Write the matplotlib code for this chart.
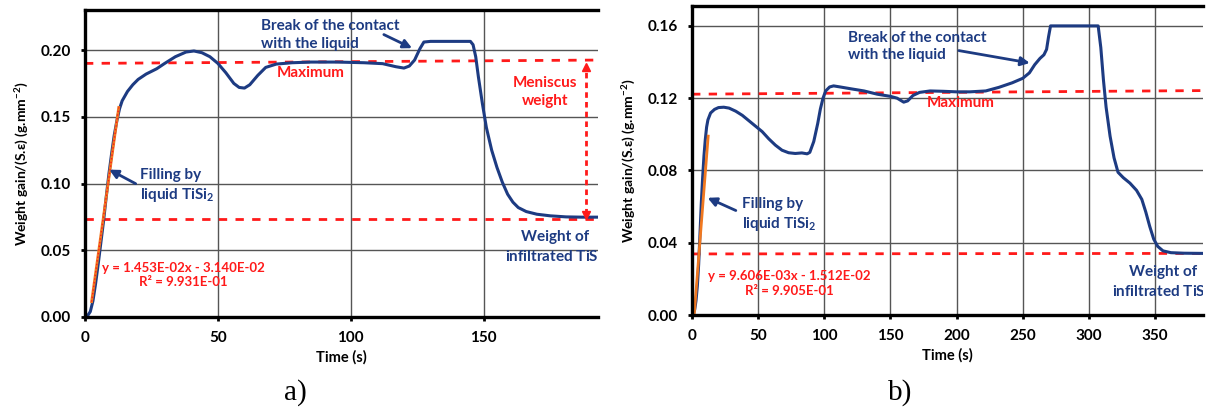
import matplotlib
matplotlib.use("Agg")
from matplotlib import pyplot as plt

plt.rcParams['font.family'] = ['Lato', 'DejaVu Sans']
plt.rcParams['font.weight'] = 'bold'
plt.rcParams['mathtext.default'] = 'regular'

NAVY = '#1d3b82'
RED = '#ff1a1a'
ORANGE = '#f07820'

# panel a) data
time_a = [0, 1, 2, 3, 4, 5, 6, 7, 8, 9, 10, 11, 12, 13, 14, 16, 18, 20, 23, 27, 30, 34, 38, 41,
          44, 47, 50, 53, 56, 58, 60, 62, 65, 68, 72, 78, 85, 95, 105, 112, 117, 120, 122, 124,
          126, 127.5, 130, 145, 146, 147, 148, 149.5, 151, 153, 155, 157, 159, 161, 163, 166,
          170, 175, 181, 187, 193]
gain_a = [0, 0.001, 0.004, 0.012, 0.025, 0.040, 0.056, 0.072, 0.090, 0.107, 0.122, 0.136, 0.147,
          0.156, 0.162, 0.169, 0.174, 0.178, 0.182, 0.186, 0.190, 0.195, 0.1985, 0.1993, 0.198,
          0.195, 0.190, 0.183, 0.175, 0.172, 0.1715, 0.174, 0.181, 0.187, 0.1895, 0.1905, 0.1910,
          0.1910, 0.1905, 0.1898, 0.1875, 0.1865, 0.1880, 0.1925, 0.2010, 0.2060, 0.2065, 0.2065,
          0.2040, 0.1950, 0.1800, 0.1600, 0.1420, 0.1250, 0.1120, 0.1010, 0.0920, 0.0860, 0.0820,
          0.0790, 0.0770, 0.0758, 0.0750, 0.0748, 0.0748]
fit_a_x = [2.5, 12.7]
fit_a_y = [0.0115, 0.157]
max_a_y = [0.190, 0.1925]
infil_a_y = [0.0734, 0.0734]

# panel b) data
time_b = [0, 1, 2, 3, 4, 5, 6, 7, 8, 9, 10, 11, 12, 14, 17, 20, 24, 28, 33, 38, 43, 48, 53, 58,
          63, 68, 73, 78, 83, 87, 89, 92, 95, 97, 99, 101, 104, 107, 112, 120, 130, 140, 150, 155,
          160, 163, 167, 172, 180, 190, 200, 210, 222, 232, 242, 250, 255, 259, 263, 266, 268,
          269.5, 271, 307, 309, 311, 313, 316, 319, 322, 326, 331, 336, 340, 343, 346, 349, 352,
          356, 362, 372, 386]
gain_b = [0, 0.0005, 0.003, 0.008, 0.016, 0.028, 0.045, 0.062, 0.076, 0.088, 0.097, 0.104, 0.108,
          0.1118, 0.1138, 0.1148, 0.1150, 0.1145, 0.1128, 0.1105, 0.1075, 0.1045, 0.1015, 0.0975,
          0.0940, 0.0912, 0.0898, 0.0894, 0.0897, 0.0892, 0.0900, 0.0960, 0.1060, 0.1140, 0.1200,
          0.1240, 0.1262, 0.1268, 0.1262, 0.1252, 0.1240, 0.1222, 0.1210, 0.1200, 0.1178, 0.1185,
          0.1215, 0.1232, 0.1240, 0.1238, 0.1235, 0.1235, 0.1240, 0.1260, 0.1285, 0.1310, 0.1340,
          0.1385, 0.1420, 0.1440, 0.1470, 0.1540, 0.1600, 0.1600, 0.1480, 0.1300, 0.1150, 0.0990,
          0.0870, 0.0790, 0.0760, 0.0730, 0.0690, 0.0640, 0.0570, 0.0490, 0.0420, 0.0380, 0.0355,
          0.0345, 0.0342, 0.0341]
fit_b_x = [1.6, 12.2]
fit_b_y = [0.0, 0.099]
max_b_y = [0.1222, 0.1242]
infil_b_y = [0.0338, 0.0341]

xticks_a = [0, 50, 100, 150]
yticks_a = [0.00, 0.05, 0.10, 0.15, 0.20]
xticks_b = [0, 50, 100, 150, 200, 250, 300, 350]
yticks_b = [0.00, 0.04, 0.08, 0.12, 0.16]

eq_a = 'y = 1.453E-02x - 3.140E-02\nR² = 9.931E-01'
eq_b = 'y = 9.606E-03x - 1.512E-02\nR² = 9.905E-01'
ylabel = 'Weight gain/(S.ε) (g.mm$^{-2}$)'
TXT = 11


def style_axes(ax, xlim, ylim, xticks, yticks, yfmt):
    ax.set_xlim(*xlim)
    ax.set_ylim(*ylim)
    ax.set_xticks(xticks)
    ax.set_yticks(yticks)
    ax.set_yticklabels([yfmt.format(v) for v in yticks])
    ax.grid(True, color='#555555', lw=1.0)
    ax.set_axisbelow(True)
    for side in ('left', 'bottom', 'top'):
        ax.spines[side].set_linewidth(2.4)
    ax.spines['right'].set_visible(False)
    ax.tick_params(direction='out', length=3, width=2, labelsize=11, pad=7)
    ax.set_xlabel('Time (s)', fontsize=10.5, fontweight='bold', labelpad=4)
    ax.set_ylabel(ylabel, fontsize=10, fontweight='bold', labelpad=7)


def weight_text(ax, x_center, x_left, y_top, y_bot):
    ax.text(x_center, y_top, 'Weight of', color=NAVY, fontsize=TXT, ha='center', va='center')
    t = ax.text(x_left, y_bot, 'infiltrated TiSi$_2$', color=NAVY, fontsize=TXT,
                ha='left', va='center')
    t.set_clip_on(True)


fig = plt.figure(figsize=(12.12, 4.12), dpi=100)
ax_a = fig.add_axes([0.0701, 0.2306, 0.4233, 0.7451])
ax_b = fig.add_axes([0.5710, 0.2354, 0.4213, 0.7500])

# ---- panel a
style_axes(ax_a, (0, 193), (0, 0.23), xticks_a, yticks_a, '{:.2f}')
xa = ax_a.get_xlim()
ax_a.plot(xa, max_a_y, color=RED, lw=2, dashes=(3, 3))
ax_a.plot(xa, infil_a_y, color=RED, lw=2, dashes=(3, 3))
ax_a.plot(time_a, gain_a, color=NAVY, lw=2.2)
ax_a.plot(fit_a_x, fit_a_y, color=ORANGE, lw=2)
ax_a.plot(fit_a_x, fit_a_y, color=RED, lw=1, ls=':')

ax_a.plot([188.3, 188.3], [0.0775, 0.187], color=RED, lw=2, dashes=(2, 1.5))
ax_a.plot(188.3, 0.1875, marker='^', color=RED, ms=6)
ax_a.plot(188.3, 0.0765, marker='v', color=RED, ms=6)

ax_a.text(66.4, 0.2112, 'Break of the contact\nwith the liquid', color=NAVY, fontsize=TXT,
          ha='left', va='center', linespacing=1.3)
ax_a.annotate('', xy=(124, 0.2005), xytext=(111.5, 0.2125),
              arrowprops=dict(arrowstyle='-|>', color=NAVY, lw=2, mutation_scale=13))
ax_a.text(85, 0.1825, 'Maximum', color=RED, fontsize=TXT, ha='center', va='center')
ax_a.text(173, 0.1685, 'Meniscus\nweight', color=RED, fontsize=TXT, ha='center', va='center',
          linespacing=1.3)
ax_a.text(20.7, 0.098, 'Filling by\nliquid TiSi$_2$', color=NAVY, fontsize=TXT, ha='left',
          va='center', linespacing=1.3)
ax_a.annotate('', xy=(8.2, 0.1114), xytext=(20, 0.0989),
              arrowprops=dict(arrowstyle='-|>', color=NAVY, lw=2, mutation_scale=13))
ax_a.text(37, 0.0315, eq_a, color=RED, fontsize=9.5, ha='center', va='center', linespacing=1.25)
weight_text(ax_a, 177, 157.9, 0.060, 0.045)

# ---- panel b
style_axes(ax_b, (0, 386), (0, 0.171), xticks_b, yticks_b, '{:.2f}')
xb = ax_b.get_xlim()
ax_b.plot(xb, max_b_y, color=RED, lw=2, dashes=(3, 3))
ax_b.plot(xb, infil_b_y, color=RED, lw=2, dashes=(3, 3))
ax_b.plot(time_b, gain_b, color=NAVY, lw=2.2)
ax_b.plot(fit_b_x, fit_b_y, color=ORANGE, lw=2)

ax_b.text(117.9, 0.1487, 'Break of the contact\nwith the liquid', color=NAVY, fontsize=TXT,
          ha='left', va='center', linespacing=1.3)
ax_b.annotate('', xy=(257.4, 0.1392), xytext=(199.6, 0.1466),
              arrowprops=dict(arrowstyle='-|>', color=NAVY, lw=2, mutation_scale=13))
ax_b.text(203, 0.1171, 'Maximum', color=RED, fontsize=TXT, ha='center', va='center')
ax_b.text(37.5, 0.0554, 'Filling by\nliquid TiSi$_2$', color=NAVY, fontsize=TXT, ha='left',
          va='center', linespacing=1.3)
ax_b.annotate('', xy=(9.8, 0.0655), xytext=(35, 0.0572),
              arrowprops=dict(arrowstyle='-|>', color=NAVY, lw=2, mutation_scale=13))
ax_b.text(73.2, 0.0175, eq_b, color=RED, fontsize=9.5, ha='center', va='center', linespacing=1.25)
weight_text(ax_b, 356, 317.8, 0.024, 0.0124)

fig.text(295 / 1212, 1 - 393 / 412, 'a)', family='Liberation Serif', fontweight='normal',
         fontsize=21, ha='center', va='center')
fig.text(900 / 1212, 1 - 393 / 412, 'b)', family='Liberation Serif', fontweight='normal',
         fontsize=21, ha='center', va='center')

fig.savefig('out.png', dpi=100)
